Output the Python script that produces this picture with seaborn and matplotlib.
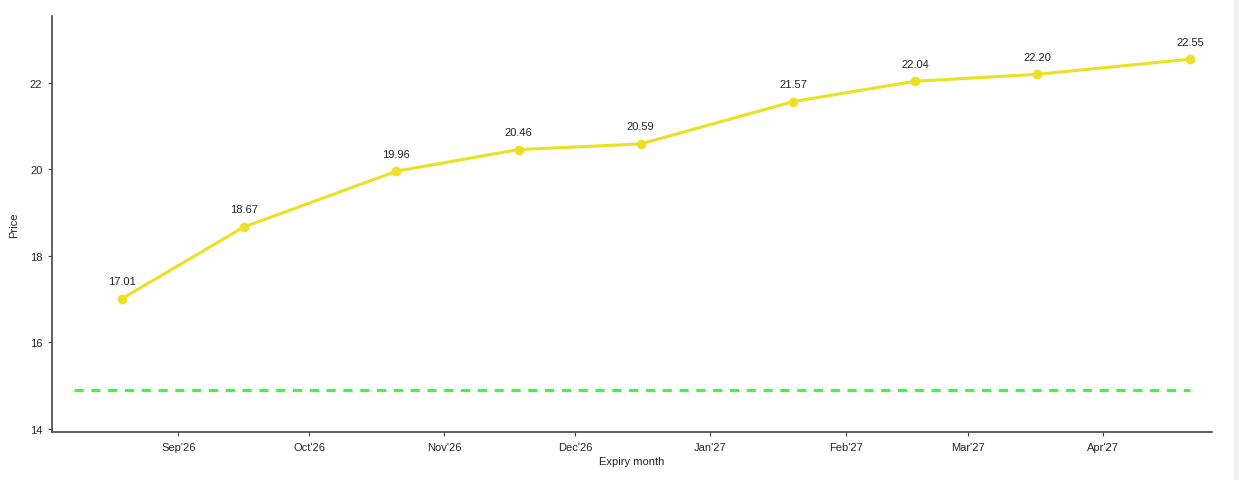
import matplotlib.pyplot as plt
import matplotlib.dates as mdates
import pandas as pd
import seaborn as sns

expiry = ['2026-08-19', '2026-09-16', '2026-10-21', '2026-11-18', '2026-12-16',
          '2027-01-20', '2027-02-17', '2027-03-17', '2027-04-21']
price = [17.01, 18.67, 19.96, 20.46, 20.59, 21.57, 22.04, 22.20, 22.55]
spot_dates = ['2026-08-08', '2027-04-21']
spot_price = [14.9, 14.9]

df = pd.DataFrame({'expiry': pd.to_datetime(expiry), 'price': price})
spot = pd.DataFrame({'date': pd.to_datetime(spot_dates), 'price': spot_price})

sns.set_style('white')
plt.rcParams['font.family'] = ['Liberation Sans', 'DejaVu Sans']

fig = plt.figure(figsize=(12.39, 4.81), dpi=100)
ax = fig.add_axes([0.042, 0.0998, 0.936, 0.865])
fig.patches.append(plt.Rectangle((1234 / 1239, 0), 5 / 1239, 1, transform=fig.transFigure,
                                 color='#f0f0f0', zorder=-1))

sns.lineplot(data=spot, x='date', y='price', ax=ax, color='#33ff33', lw=2.2,
             linestyle=(0, (3, 2.5)))
sns.lineplot(data=df, x='expiry', y='price', ax=ax, color='#ece022', lw=2.2,
             marker='o', markersize=7, markeredgewidth=0)

for d, p in zip(df['expiry'], df['price']):
    ax.annotate(f'{p:.2f}', (d, p), xytext=(0, 9), textcoords='offset points',
                ha='center', va='bottom', fontsize=8, color='#222222')

ax.set_xlim(pd.Timestamp('2026-08-03'), pd.Timestamp('2027-04-26'))
ax.set_ylim(13.93, 23.55)
ax.set_yticks([14, 16, 18, 20, 22])
ax.xaxis.set_major_locator(mdates.MonthLocator(bymonth=[9, 10, 11, 12, 1, 2, 3, 4]))
ax.xaxis.set_major_formatter(mdates.DateFormatter("%b'%y"))

ax.set_xlabel('Expiry month', fontsize=8, labelpad=3)
ax.set_ylabel('Price', fontsize=8, labelpad=8)
ax.tick_params(axis='both', labelsize=8, length=3, width=0.8, color='#444444',
               left=True, bottom=True, pad=4)
sns.despine(ax=ax)
for s in ['left', 'bottom']:
    ax.spines[s].set_color('#444444')
    ax.spines[s].set_linewidth(1.2)

fig.savefig('out.png', dpi=100)
